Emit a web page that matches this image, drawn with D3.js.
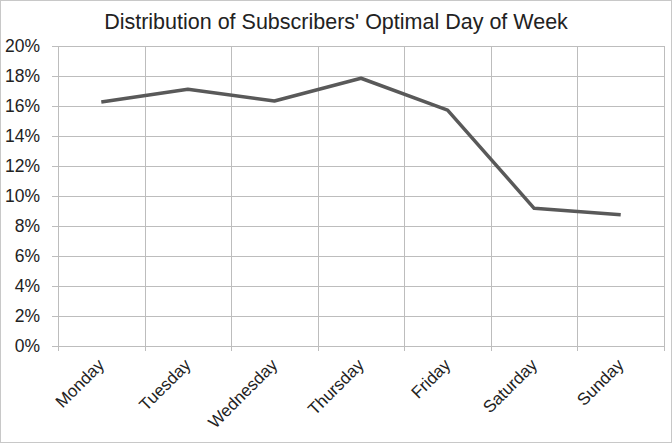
<!DOCTYPE html>
<html><head><meta charset="utf-8">
<script src="https://cdn.jsdelivr.net/npm/d3@7"></script>
<style>body{margin:0;background:#fff}svg{display:block}text{font-family:"Liberation Sans",Arial,sans-serif}</style>
</head><body>
<script>
const days = ["Monday","Tuesday","Wednesday","Thursday","Friday","Saturday","Sunday"];
const share = [16.27, 17.11, 16.33, 17.85, 15.73, 9.18, 8.75];
const yTicks = [0,2,4,6,8,10,12,14,16,18,20];
const title = "Distribution of Subscribers' Optimal Day of Week";

const W = 672, H = 443;
const m = {left: 58, right: 8, top: 46, bottom: 97};
const svg = d3.select("body").append("svg").attr("width", W).attr("height", H);
svg.append("rect").attr("x",0.5).attr("y",0.5).attr("width",W-1).attr("height",H-1)
  .attr("fill","#fff").attr("stroke","#c8c8c8");

const x = d3.scaleBand().domain(days).range([m.left, W - m.right]).padding(0);
const y = d3.scaleLinear().domain([0,20]).range([H - m.bottom, m.top]);

svg.append("text").attr("x", 336).attr("y", 29).attr("text-anchor","middle")
  .attr("font-size", 21.5).attr("fill","#222").text(title);

// horizontal gridlines with ticks
const gy = svg.append("g");
gy.selectAll("line").data(yTicks).join("line")
  .attr("x1", m.left - 6).attr("x2", W - m.right)
  .attr("y1", d => Math.round(y(d)) + 0.5).attr("y2", d => Math.round(y(d)) + 0.5)
  .attr("stroke","#bdbdbd").attr("stroke-width",1);
gy.selectAll("text").data(yTicks).join("text")
  .attr("x", 40).attr("y", d => y(d) + 6).attr("text-anchor","end")
  .attr("font-size", 17.5).attr("fill","#222").text(d => d + "%");

// vertical gridlines at band edges
const edges = days.map(d => x(d)).concat([x(days[days.length-1]) + x.bandwidth()]);
svg.append("g").selectAll("line").data(edges).join("line")
  .attr("x1", d => Math.round(d) + 0.5).attr("x2", d => Math.round(d) + 0.5)
  .attr("y1", m.top).attr("y2", H - m.bottom + 5)
  .attr("stroke","#bdbdbd").attr("stroke-width",1);

// x labels
svg.append("g").selectAll("text").data(days).join("text")
  .attr("transform", d => `translate(${x(d) + x.bandwidth()/2 + 4},${H - m.bottom + 20}) rotate(-45)`)
  .attr("text-anchor","end").attr("font-size", 17).attr("fill","#222").text(d => d);

// line
const line = d3.line().x((d,i) => x(days[i]) + x.bandwidth()/2).y(d => y(d));
svg.append("path").datum(share).attr("d", line).attr("fill","none")
  .attr("stroke","#595959").attr("stroke-width",3.5).attr("stroke-linejoin","round");
</script>
</body></html>
